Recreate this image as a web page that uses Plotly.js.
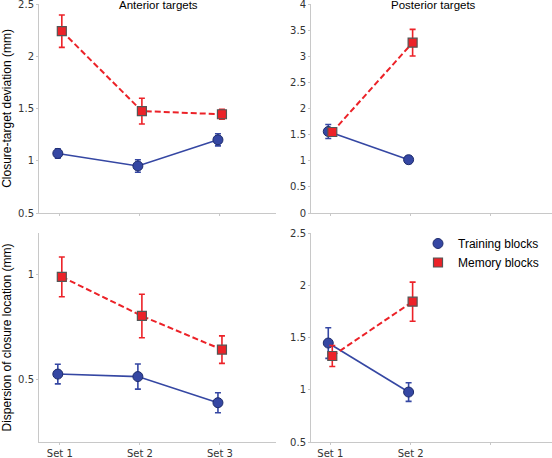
<!DOCTYPE html>
<html>
<head>
<meta charset="utf-8">
<script src="https://cdn.plot.ly/plotly-3.0.1.min.js"></script>
<style>html,body{margin:0;padding:0;background:#fff;}#chart{width:552px;height:458px;}</style>
</head>
<body>
<div id="chart"></div>
<script>
// ---- data ----
const sets = ['Set 1', 'Set 2', 'Set 3'];
const setsPosterior = ['Set 1', 'Set 2'];
const rightTickText = ['Set 1', 'Set 2', ''];

const antDevTraining = [1.07, 0.95, 1.20];
const antDevTrainingErr = [0.045, 0.06, 0.058];
const antDevMemory = [2.24, 1.475, 1.445];
const antDevMemoryErr = [0.155, 0.123, 0.047];

const postDevTraining = [1.56, 1.02];
const postDevTrainingErr = [0.135, 0.07];
const postDevMemory = [1.55, 3.26];
const postDevMemoryErr = [0.05, 0.255];

const antDispTraining = [0.525, 0.513, 0.388];
const antDispTrainingErr = [0.047, 0.06, 0.048];
const antDispMemory = [0.99, 0.803, 0.642];
const antDispMemoryErr = [0.095, 0.104, 0.066];

const postDispTraining = [1.447, 0.978];
const postDispTrainingErr = [0.147, 0.089];
const postDispMemory = [1.323, 1.843];
const postDispMemoryErr = [0.1, 0.187];

// ---- styles ----
const blue = '#3547a3';
const red = '#ec2228';
const blueMarker = {symbol: 'circle', size: 10, color: blue, line: {color: '#1e2c6b', width: 1}};
const redMarker = {symbol: 'square', size: 9, color: red, line: {color: '#555555', width: 1.2}};
const blueLine = {color: blue, width: 1.6};
const redLine = {color: red, width: 2, dash: '6px,3px'};

// each series = a connecting-line trace + a marker/error-bar trace (legend shows markers only)
function series(name, group, x, y, err, ax, line, marker, color, showLeg) {
  return [
    {type: 'scatter', mode: 'lines', name: name, x: x, y: y,
     xaxis: 'x' + ax, yaxis: 'y' + ax, offsetgroup: group, showlegend: false, line: line},
    {type: 'scatter', mode: 'markers', name: name, x: x, y: y,
     xaxis: 'x' + ax, yaxis: 'y' + ax, offsetgroup: group, showlegend: showLeg, marker: marker,
     error_y: {type: 'data', array: err, visible: true, color: color, thickness: 1.6, width: 3}}
  ];
}
const T = (x, y, e, ax, leg) => series('Training blocks', 'training', x, y, e, ax, blueLine, blueMarker, blue, leg);
const M = (x, y, e, ax, leg) => series('Memory blocks', 'memory', x, y, e, ax, redLine, redMarker, red, leg);

const traces = [].concat(
  T(sets, antDevTraining, antDevTrainingErr, '', false),
  M(sets, antDevMemory, antDevMemoryErr, '', false),
  T(setsPosterior, postDevTraining, postDevTrainingErr, '2', false),
  M(setsPosterior, postDevMemory, postDevMemoryErr, '2', false),
  T(sets, antDispTraining, antDispTrainingErr, '3', false),
  M(sets, antDispMemory, antDispMemoryErr, '3', false),
  T(setsPosterior, postDispTraining, postDispTrainingErr, '4', true),
  M(setsPosterior, postDispMemory, postDispMemoryErr, '4', true)
);

const W = 552, H = 458;
const tickFont = {family: 'DejaVu Sans, Verdana, sans-serif', size: 10, color: '#333333'};
const titleFont = {family: 'Liberation Sans, Arial, sans-serif', size: 12, color: '#000000'};
const headFont = {family: 'Liberation Sans, Arial, sans-serif', size: 11.5, color: '#000000'};
const axCommon = {
  showline: true, linecolor: '#c8c8c8', linewidth: 1, showgrid: false, zeroline: false,
  ticks: 'outside', tickcolor: '#c8c8c8', ticklen: 2, tickfont: tickFont, fixedrange: true,
  ticklabeloverflow: 'allow'
};
const leftX = [39 / W, 276 / W];
const rightX = [311 / W, 1];
const topY = [1 - 213 / H, 1 - 4 / H];
const botY = [1 - 442 / H, 1 - 233 / H];

function xAx(domain, anchor, labels, range) {
  return Object.assign({}, axCommon, {
    domain: domain, anchor: anchor, type: 'category',
    categoryorder: 'array', categoryarray: sets,
    tickmode: 'array', tickvals: sets, ticktext: labels,
    range: range, showticklabels: true
  });
}
function yAx(domain, anchor, range, title) {
  const a = Object.assign({}, axCommon, {
    domain: domain, anchor: anchor, range: range, dtick: 0.5, tick0: 0
  });
  if (title) a.title = {text: title, font: titleFont, standoff: 8};
  return a;
}

const layout = {
  width: W, height: H,
  margin: {l: 0, r: 0, t: 0, b: 0},
  paper_bgcolor: '#ffffff', plot_bgcolor: '#ffffff',
  scattermode: 'group', scattergap: 0.9,
  showlegend: true,
  legend: {
    x: 418 / W, xanchor: 'left', y: 1 - 229 / H, yanchor: 'top',
    font: titleFont, bgcolor: 'rgba(0,0,0,0)', borderwidth: 0
  },
  xaxis: Object.assign(xAx(leftX, 'y', sets, [-0.26, 2.7]), {showticklabels: false}),
  yaxis: yAx(topY, 'x', [0.5, 2.5], 'Closure-target deviation (mm)'),
  xaxis2: Object.assign(xAx(rightX, 'y2', rightTickText, [-0.24, 2.76]), {showticklabels: false}),
  yaxis2: yAx(topY, 'x2', [0, 4], null),
  xaxis3: xAx(leftX, 'y3', sets, [-0.26, 2.7]),
  yaxis3: yAx(botY, 'x3', [0.2, 1.2], 'Dispersion of closure location (mm)'),
  xaxis4: xAx(rightX, 'y4', rightTickText, [-0.24, 2.76]),
  yaxis4: yAx(botY, 'x4', [0.5, 2.5], null),
  annotations: [
    {text: 'Anterior targets', xref: 'paper', yref: 'paper', x: 158 / W, y: 1 - 5 / H,
     xanchor: 'center', yanchor: 'middle', showarrow: false, font: headFont},
    {text: 'Posterior targets', xref: 'paper', yref: 'paper', x: 433 / W, y: 1 - 5 / H,
     xanchor: 'center', yanchor: 'middle', showarrow: false, font: headFont}
  ]
};

Plotly.newPlot('chart', traces, layout, {displayModeBar: false, staticPlot: true});
</script>
</body>
</html>
